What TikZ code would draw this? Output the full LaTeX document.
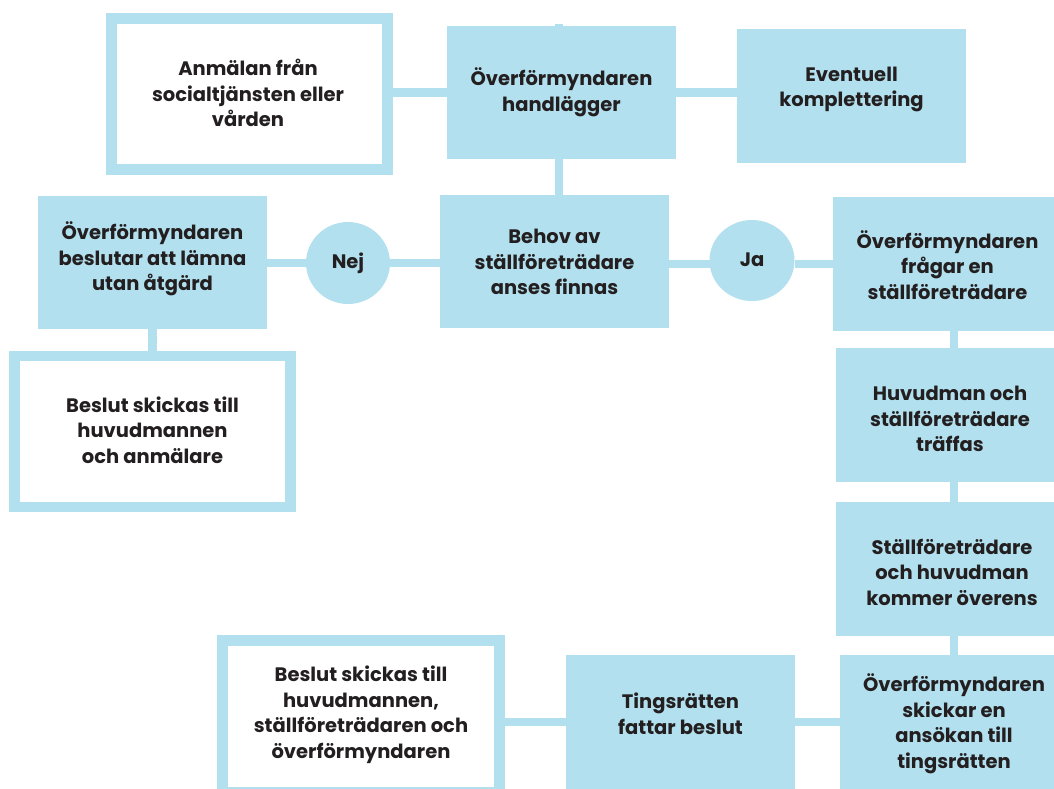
\documentclass[tikz,border=0pt]{standalone}
\usepackage{fontspec}
\setmainfont{Poppins}
\usetikzlibrary{shapes.geometric}
\definecolor{lb}{HTML}{B2E0EE}
\definecolor{tx}{HTML}{231F20}
\tikzset{
  fbox/.style={fill=lb, draw=none, inner sep=0pt, outer sep=0pt, rectangle},
  obox/.style={fill=white, draw=lb, line width=11pt, inner sep=0pt, outer sep=0pt, rectangle},
  circ/.style={fill=lb, draw=none, ellipse, inner sep=0pt, outer sep=0pt, minimum width=84pt, minimum height=82pt},
  conn/.style={draw=lb, line width=8.5pt},
  txt/.style={text=tx, align=center, inner sep=0pt, font=\bfseries\fontsize{19.5}{25.5}\selectfont}
}
\begin{document}
\begin{tikzpicture}[x=1pt,y=-1pt]
\useasboundingbox (0,0) rectangle (1054,789);
\clip (0,0) rectangle (1054,789);
% boxes
\node[obox, minimum width=276pt, minimum height=151pt] (anm) at (249.5,94) {};
\node[fbox, minimum width=229pt, minimum height=133pt] (handl) at (561.5,92.5) {};
\node[fbox, minimum width=229pt, minimum height=134pt] (event) at (851.5,96) {};
\node[fbox, minimum width=229pt, minimum height=133pt] (beslutar) at (152.5,262.5) {};
\node[circ] (nej) at (348,263) {};
\node[fbox, minimum width=229pt, minimum height=133pt] (behov) at (554.5,261.5) {};
\node[circ, minimum width=85pt, minimum height=81pt] (ja) at (752,260.5) {};
\node[fbox, minimum width=221pt, minimum height=134pt] (fragar) at (943.5,264) {};
\node[fbox, minimum width=218pt, minimum height=134pt] (huvud) at (945,415) {};
\node[fbox, minimum width=218pt, minimum height=134pt] (overens) at (945,569) {};
\node[fbox, minimum width=214pt, minimum height=134pt] (skickar) at (947,722) {};
\node[fbox, minimum width=229pt, minimum height=134pt] (ting) at (680.5,722) {};
\node[obox, minimum width=277pt, minimum height=152pt] (beslut2) at (361,716.5) {};
\node[obox, line width=10.5pt, minimum width=276pt, minimum height=151pt] (beslut1) at (152.5,431.5) {};
% connector guides
\coordinate (vtop) at (559,24.5);
\coordinate (vx) at (954,0);
% connectors
\draw[conn] (handl.west -| anm.east) -- (handl.west);
\draw[conn] (handl.east) -- (handl.east -| event.west);
\draw[conn] (vtop) -- (vtop |- behov.north);
\draw[conn] (beslutar.east |- nej.west) -- (nej.west);
\draw[conn] (nej.east) -- (nej.east -| behov.west);
\draw[conn] (behov.east |- fragar.west) -- (ja.west |- fragar.west);
\draw[conn] (ja.east |- fragar.west) -- (fragar.west);
\draw[conn] (beslutar.south) -- (beslutar.south |- beslut1.north);
\draw[conn] (fragar.south -| vx) -- (huvud.north -| vx);
\draw[conn] (huvud.south -| vx) -- (overens.north -| vx);
\draw[conn] (overens.south -| vx) -- (skickar.north -| vx);
\draw[conn] (skickar.west) -- (ting.east);
\draw[conn] (ting.west) -- (ting.west -| beslut2.east);
% texts
\node[txt] (anm-t) at (248,93) {Anmälan från\\socialtjänsten eller\\vården};
\node[txt] (handl-t) at (561.5,92.5) {Överförmyndaren\\handlägger};
\node[txt] (event-t) at (851.5,89.5) {Eventuell\\komplettering};
\node[txt] (beslutar-t) at (152.5,259) {Överförmyndaren\\beslutar att lämna\\utan åtgärd};
\node[txt] (nej-t) at (348,263) {Nej};
\node[txt] (behov-t) at (554.5,262) {Behov av\\ställföreträdare\\anses finnas};
\node[txt] (ja-t) at (752,260) {Ja};
\node[txt] (fragar-t) at (947.5,265) {Överförmyndaren\\frågar en\\ställföreträdare};
\node[txt] (huvud-t) at (950,419) {Huvudman och\\ställföreträdare\\träffas};
\node[txt] (overens-t) at (952,572) {Ställföreträdare\\och huvudman\\kommer överens};
\node[txt] (skickar-t) at (954,724) {Överförmyndaren\\skickar en\\ansökan till\\tingsrätten};
\node[txt] (ting-t) at (680.5,714) {Tingsrätten\\fattar beslut};
\node[txt] (beslut2-t) at (361,715) {Beslut skickas till\\huvudmannen,\\ställföreträdaren och\\överförmyndaren};
\node[txt] (beslut1-t) at (152.5,430) {Beslut skickas till\\huvudmannen\\och anmälare};
\end{tikzpicture}
\end{document}
